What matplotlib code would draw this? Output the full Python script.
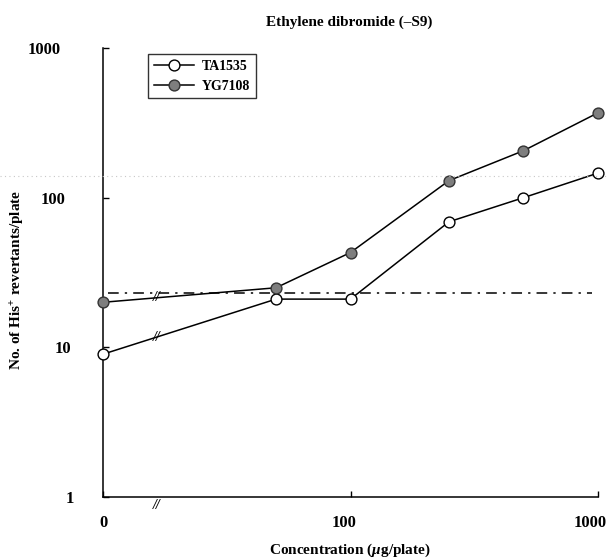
import numpy as np
import matplotlib
matplotlib.use("Agg")
import matplotlib.pyplot as plt
from matplotlib.lines import Line2D
from matplotlib.transforms import ScaledTranslation, blended_transform_factory

plt.rcParams['font.family'] = ['Liberation Serif', 'DejaVu Serif']
plt.rcParams['font.weight'] = 'bold'
plt.rcParams['mathtext.fontset'] = 'custom'
plt.rcParams['mathtext.rm'] = 'Liberation Serif:bold'
plt.rcParams['mathtext.it'] = 'Liberation Serif:italic:bold'
plt.rcParams['mathtext.bf'] = 'Liberation Serif:bold'

# Doses (ug/plate); the solvent control (0) is drawn at the axis origin (10)
doses = [0, 50, 100, 250, 500, 1000]
ta1535 = [9, 21, 21, 69, 100, 146]
yg7108 = [20, 25, 43, 130, 206, 369]
twofold_line = 23
x_ticks = [10, 100, 1000]
x_tick_labels = ['0', '100', '1000']
y_ticks = [1, 10, 100, 1000]
y_tick_labels = ['1', '10', '100', '1000']

ZERO_POS = 10.0
xpos = [ZERO_POS if d == 0 else d for d in doses]

fig = plt.figure(figsize=(6.08, 5.59), dpi=100)
ax = fig.add_axes([103/608, 1-497/559, 495/608, 449/559])

ax.set_xscale('log')
ax.set_yscale('log')
ax.set_xlim(10, 1000)
ax.set_ylim(1, 1000)

ax.plot(xpos, ta1535, color='black', lw=1.1, marker='o', ms=7.8,
        mfc='white', mec='black', mew=1.0, clip_on=False, zorder=4, label='TA1535')
ax.plot(xpos, yg7108, color='black', lw=1.1, marker='o', ms=7.8,
        mfc='#7e7e7e', mec='#333333', mew=1.0, clip_on=False, zorder=4, label='YG7108')

# reference level (twice the spontaneous count)
ax.plot([10.5, 950], [twofold_line, twofold_line], color='black', lw=1.1,
        dashes=(7, 4, 1.5, 4), zorder=3)

# break marks between control and first dose
lx0, lx1 = np.log10(xpos[0]), np.log10(xpos[1])
xb = 16.5
frac = (np.log10(xb) - lx0) / (lx1 - lx0)
for series in (ta1535, yg7108):
    ly = np.log10(series[0]) + frac * (np.log10(series[1]) - np.log10(series[0]))
    ax.text(xb, 10**ly, '//', ha='center', va='center', fontsize=10,
            fontstyle='italic', fontweight='bold', zorder=5)
tb = blended_transform_factory(ax.transData, ax.transAxes)
ax.text(xb, -0.018, '//', transform=tb, ha='center', va='center', fontsize=10,
        fontstyle='italic', fontweight='bold', clip_on=False)

for s in ('top', 'right'):
    ax.spines[s].set_visible(False)
for s in ('left', 'bottom'):
    ax.spines[s].set_linewidth(1.1)

ax.set_xticks(x_ticks, x_tick_labels)
ax.set_yticks(y_ticks, y_tick_labels)
ax.minorticks_off()
ax.tick_params(axis='both', direction='in', length=4, width=1.0, labelsize=12)
ax.tick_params(axis='x', pad=13)
ax.tick_params(axis='y', pad=21)

# individual label shifts
y_shift_px = {'1': 0, '10': -3, '100': -8, '1000': -13}
for lab, txt in zip(ax.get_yticklabels(), y_tick_labels):
    lab.set_transform(lab.get_transform() +
                      ScaledTranslation(y_shift_px[txt]/100, 0, fig.dpi_scale_trans))
x_shift_px = {'0': 0, '100': -6, '1000': -8}
for lab, txt in zip(ax.get_xticklabels(), x_tick_labels):
    lab.set_transform(lab.get_transform() +
                      ScaledTranslation(x_shift_px[txt]/100, 0, fig.dpi_scale_trans))

fig.text(349/608, 1-22/559, 'Ethylene dibromide (\u2013S9)', ha='center', va='center',
         fontsize=11, fontweight='bold')
fig.text(350/608, 1-550/559, r'Concentration ($\mu$g/plate)', ha='center', va='center',
         fontsize=11, fontweight='bold')
fig.text(18/608, 1-280/559, r'No. of His$^{+}$ revertants/plate', ha='center', va='center',
         rotation=90, fontsize=11, fontweight='bold')

leg = ax.legend(loc='upper left', bbox_to_anchor=(148/608, 1-54/559),
                bbox_transform=fig.transFigure, borderaxespad=0,
                frameon=True, fancybox=False, shadow=False, edgecolor='black',
                fontsize=10, handlelength=2.9, handletextpad=0.6,
                borderpad=0.4, labelspacing=0.5)
leg.get_frame().set_linewidth(1.0)
for t in leg.get_texts():
    t.set_fontweight('bold')

# faint dotted scan line across the page
fig.add_artist(Line2D([0, 1], [1-176/559, 1-176/559], transform=fig.transFigure,
                      color='#c8c8c8', lw=0.8, ls=(0, (1, 3))))

fig.savefig('out.png', dpi=100)
